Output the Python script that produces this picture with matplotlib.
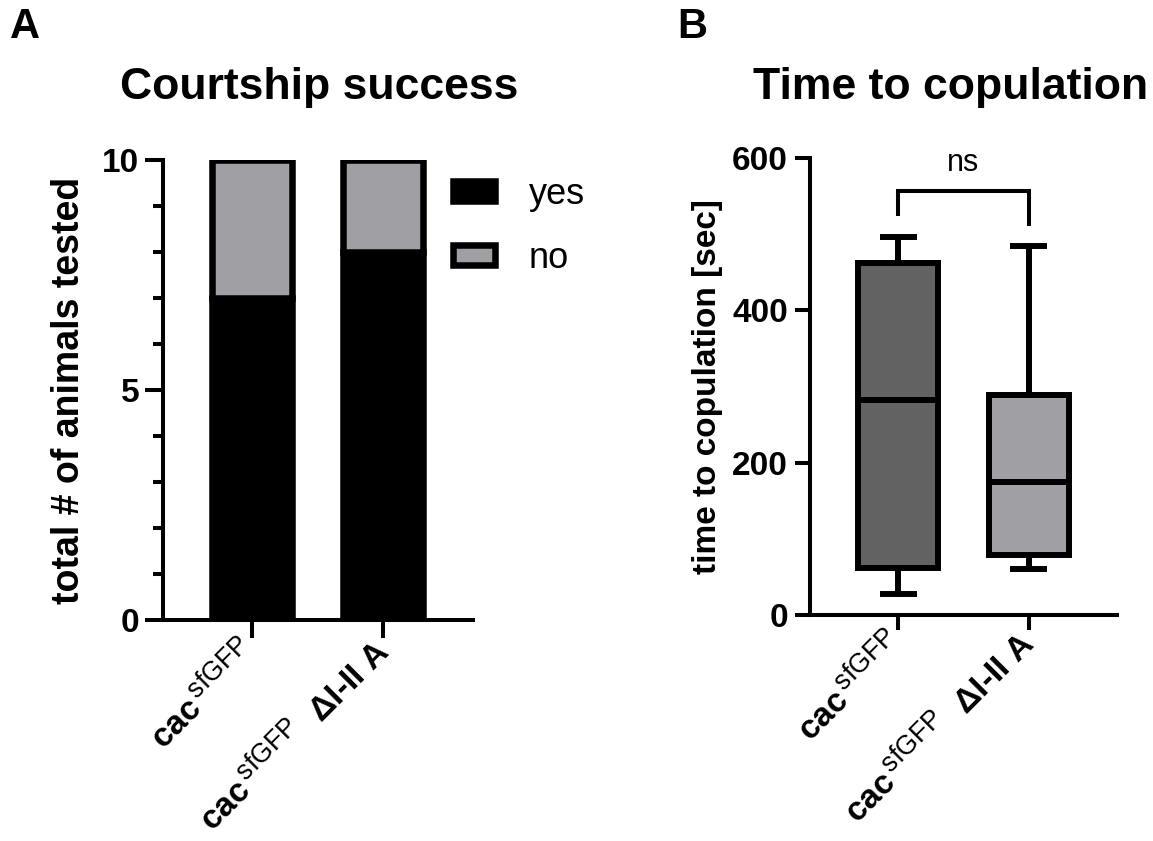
import matplotlib
matplotlib.use("Agg")
import matplotlib.pyplot as plt
from matplotlib.patches import Patch
try:
    import matplotlib._mathtext as _mt
    _mt.SHRINK_FACTOR = 0.8
except Exception:
    pass

plt.rcParams['font.family'] = ['Liberation Sans', 'DejaVu Sans']
plt.rcParams['mathtext.fontset'] = 'custom'
plt.rcParams['mathtext.rm'] = 'Liberation Sans'
plt.rcParams['mathtext.bf'] = 'Liberation Sans:bold'
plt.rcParams['mathtext.it'] = 'Liberation Sans:italic'

# ---------------- data ----------------
groups = [r"$\mathbf{cac}^{\,\mathrm{sfGFP}}$",
          r"$\mathbf{cac}^{\,\mathrm{sfGFP}}$  ΔI-II A"]
yes_counts = [7, 8]
no_counts = [3, 2]
legend_labels = ["yes", "no"]

box_whislo = [28, 60]
box_q1 = [62, 79]
box_med = [282, 175]
box_q3 = [462, 289]
box_whishi = [496, 484]
sig_label = "ns"

W, H = 1153, 841
fig = plt.figure(figsize=(W / 100, H / 100), dpi=100)

def fx(px):
    return px / W

def fy(py):
    return 1 - py / H

BLACK = "black"
GRAY = "#a0a0a4"
DARK = "#626262"
XT_SIZE = 24

# ---------------- Panel A ----------------
axA = fig.add_axes([fx(163), fy(620), fx(473) - fx(163), fy(160) - fy(620)])
x = list(range(len(groups)))
lw_bar = 4.7
axA.bar(x, yes_counts, width=0.615, color=BLACK, edgecolor=BLACK, linewidth=lw_bar, zorder=2)
axA.bar(x, no_counts, bottom=yes_counts, width=0.615, color=GRAY, edgecolor=BLACK,
        linewidth=lw_bar, zorder=2)
axA.set_xlim(-0.68, 1.69)
axA.set_ylim(0, 10)
axA.set_yticks([0, 5, 10])
axA.set_yticks(range(0, 11), minor=True)
axA.set_ylabel("total # of animals tested", fontsize=27, fontweight='bold')
axA.yaxis.set_label_coords(-0.245, 0.5)
axA.set_xticks(x)
axA.set_xticklabels(groups, rotation=45, ha='right', va='center', rotation_mode='anchor',
                    fontsize=XT_SIZE, fontweight='bold')
axA.tick_params(axis='y', which='major', length=13, width=2.9, labelsize=24, pad=4)
axA.tick_params(axis='y', which='minor', length=7, width=2.9)
axA.tick_params(axis='x', which='major', length=13, width=2.9, pad=6)
for lab in axA.get_yticklabels():
    lab.set_fontweight('bold')
for s in ['top', 'right']:
    axA.spines[s].set_visible(False)
for s in ['left', 'bottom']:
    axA.spines[s].set_linewidth(2.9)

handles = [Patch(facecolor=BLACK, edgecolor=BLACK, linewidth=lw_bar),
           Patch(facecolor=GRAY, edgecolor=BLACK, linewidth=lw_bar)]
fig.legend(handles, legend_labels, loc='upper left',
           bbox_to_anchor=(fx(453), fy(177)), bbox_transform=fig.transFigure,
           frameon=False, fontsize=26, handlelength=1.15, handleheight=0.45,
           handletextpad=0.95, labelspacing=0.8, borderpad=0, borderaxespad=0)

fig.text(fx(319), fy(88), "Courtship success", fontsize=32, fontweight='bold',
         ha='center', va='center')
fig.text(fx(25), fy(27), "A", fontsize=30, fontweight='bold', ha='center', va='center')

# ---------------- Panel B ----------------
axB = fig.add_axes([fx(810), fy(615), fx(1117) - fx(810), fy(158) - fy(615)])
stats = []
for i in range(len(groups)):
    stats.append(dict(med=box_med[i], q1=box_q1[i], q3=box_q3[i],
                      whislo=box_whislo[i], whishi=box_whishi[i], fliers=[]))
lw_box = 4.3
bp = axB.bxp(stats, positions=x, widths=0.615, patch_artist=True, showfliers=False,
             capwidths=0.29,
             boxprops=dict(linewidth=lw_box, edgecolor=BLACK),
             medianprops=dict(linewidth=lw_box, color=BLACK),
             whiskerprops=dict(linewidth=lw_box, color=BLACK),
             capprops=dict(linewidth=lw_box, color=BLACK, solid_capstyle='butt'))
for patch, c in zip(bp['boxes'], [DARK, GRAY]):
    patch.set_facecolor(c)
axB.set_xlim(-0.68, 1.68)
axB.set_ylim(0, 600)
axB.set_yticks([0, 200, 400, 600])
axB.set_ylabel("time to copulation [sec]", fontsize=24, fontweight='bold')
axB.yaxis.set_label_coords(-0.285, 0.5)
axB.set_xticks(x)
axB.set_xticklabels(groups, rotation=45, ha='right', va='center', rotation_mode='anchor',
                    fontsize=XT_SIZE, fontweight='bold')
axB.tick_params(axis='y', which='major', length=11, width=2.9, labelsize=24, pad=5)
axB.tick_params(axis='x', which='major', length=11, width=2.9, pad=6)
for lab in axB.get_yticklabels():
    lab.set_fontweight('bold')
for s in ['top', 'right']:
    axB.spines[s].set_visible(False)
for s in ['left', 'bottom']:
    axB.spines[s].set_linewidth(2.9)

# significance bracket
axB.plot([x[0], x[0], x[1], x[1]], [526, 557, 557, 513], color=BLACK, lw=2.9,
         clip_on=False, solid_joinstyle='miter')
axB.text((x[0] + x[1]) / 2, 593, sig_label, fontsize=22, ha='center', va='center',
         clip_on=False)

fig.text(fx(951), fy(88), "Time to copulation", fontsize=32, fontweight='bold',
         ha='center', va='center')
fig.text(fx(692), fy(27), "B", fontsize=30, fontweight='bold', ha='center', va='center')

fig.savefig("out.png", dpi=100)
